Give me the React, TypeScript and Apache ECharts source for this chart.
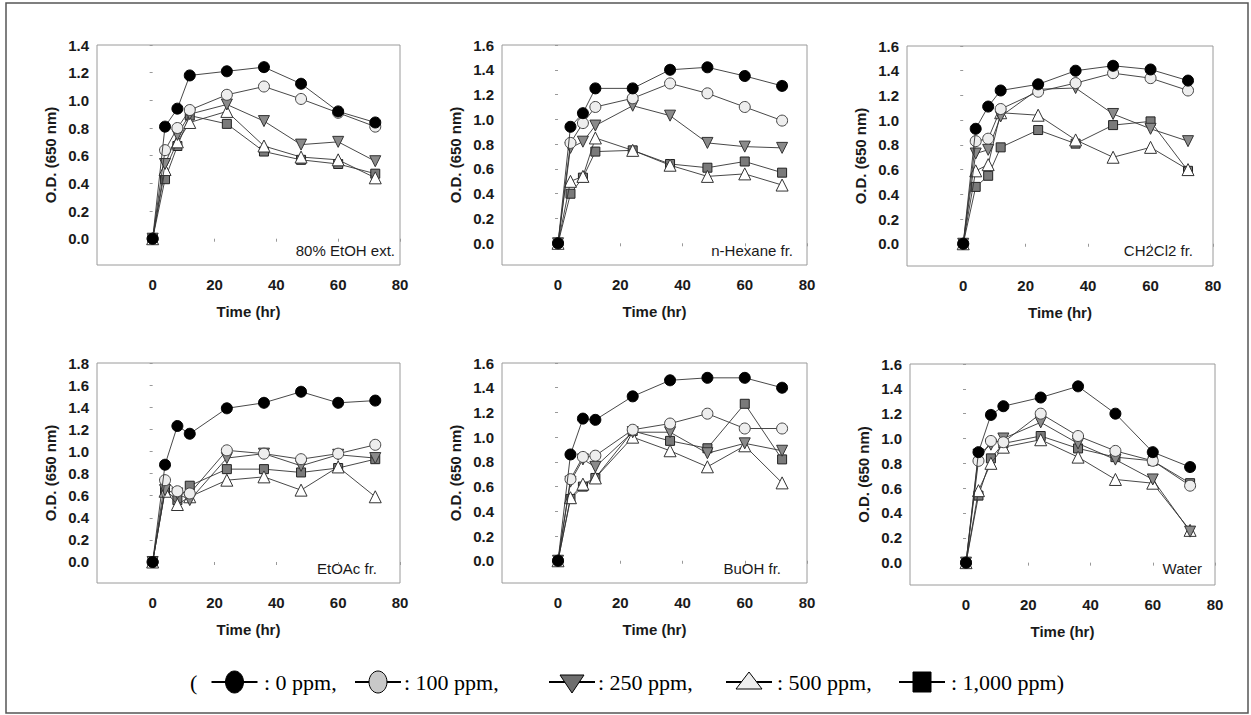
import React, { useEffect, useRef } from "react";
import * as echarts from "echarts";

const TIMES = [0, 4, 8, 12, 24, 36, 48, 60, 72];
const X_TICKS = [0, 20, 40, 60, 80];
const CONC_LABELS = [": 0 ppm,", ": 100 ppm,", ": 250 ppm,", ": 500 ppm,", ": 1,000 ppm)"];
const PANEL_LABELS = ["80% EtOH ext.", "n-Hexane fr.", "CH2Cl2 fr.", "EtOAc fr.", "BuOH fr.", "Water"];
const Y_MAX = [1.4, 1.6, 1.6, 1.8, 1.6, 1.6];

const etoh0 = [0, 0.81, 0.94, 1.18, 1.21, 1.24, 1.12, 0.92, 0.84];
const etoh100 = [0, 0.64, 0.8, 0.93, 1.04, 1.1, 1.01, 0.91, 0.81];
const etoh250 = [0, 0.54, 0.75, 0.9, 0.97, 0.85, 0.68, 0.7, 0.56];
const etoh500 = [0, 0.5, 0.7, 0.84, 0.92, 0.67, 0.59, 0.57, 0.44];
const etoh1000 = [0, 0.43, 0.67, 0.89, 0.83, 0.63, 0.57, 0.54, 0.47];

const hex0 = [0, 0.94, 1.05, 1.25, 1.25, 1.4, 1.42, 1.35, 1.27];
const hex100 = [0, 0.81, 0.97, 1.1, 1.17, 1.29, 1.21, 1.1, 0.99];
const hex250 = [0, 0.77, 0.82, 0.95, 1.11, 1.03, 0.81, 0.78, 0.77];
const hex500 = [0, 0.5, 0.54, 0.85, 0.75, 0.63, 0.54, 0.56, 0.47];
const hex1000 = [0, 0.4, 0.53, 0.74, 0.75, 0.64, 0.61, 0.66, 0.57];

const dcm0 = [0, 0.93, 1.11, 1.24, 1.29, 1.4, 1.44, 1.41, 1.32];
const dcm100 = [0, 0.83, 0.85, 1.09, 1.23, 1.3, 1.38, 1.34, 1.24];
const dcm250 = [0, 0.73, 0.76, 1.03, 1.25, 1.26, 1.05, 0.93, 0.83];
const dcm500 = [0, 0.59, 0.64, 1.06, 1.04, 0.84, 0.7, 0.78, 0.6];
const dcm1000 = [0, 0.46, 0.55, 0.78, 0.92, 0.81, 0.96, 0.99, 0.59];

const etoac0 = [0, 0.88, 1.23, 1.16, 1.39, 1.44, 1.54, 1.44, 1.46];
const etoac100 = [0, 0.74, 0.64, 0.62, 1.01, 0.98, 0.93, 0.98, 1.06];
const etoac250 = [0, 0.65, 0.62, 0.56, 0.94, 0.98, 0.87, 0.97, 0.94];
const etoac500 = [0, 0.64, 0.52, 0.59, 0.74, 0.77, 0.65, 0.86, 0.59];
const etoac1000 = [0, 0.65, 0.56, 0.69, 0.84, 0.84, 0.81, 0.85, 0.93];

const buoh0 = [0, 0.86, 1.15, 1.14, 1.33, 1.46, 1.48, 1.48, 1.4];
const buoh100 = [0, 0.66, 0.84, 0.85, 1.06, 1.11, 1.19, 1.07, 1.07];
const buoh250 = [0, 0.64, 0.82, 0.76, 1.04, 1.04, 0.87, 0.95, 0.89];
const buoh500 = [0, 0.51, 0.62, 0.67, 1.0, 0.89, 0.76, 0.93, 0.63];
const buoh1000 = [0, 0.5, 0.6, 0.67, 1.05, 0.97, 0.91, 1.27, 0.82];

const water0 = [0, 0.89, 1.19, 1.26, 1.33, 1.42, 1.2, 0.89, 0.77];
const water100 = [0, 0.82, 0.98, 0.97, 1.2, 1.02, 0.9, 0.82, 0.62];
const water250 = [0, 0.87, 0.95, 1.0, 1.13, 0.96, 0.83, 0.67, 0.25];
const water500 = [0, 0.58, 0.8, 0.93, 0.99, 0.85, 0.67, 0.64, 0.26];
const water1000 = [0, 0.54, 0.84, 0.96, 1.02, 0.92, 0.85, 0.82, 0.64];

const PANELS = [
  [etoh0, etoh100, etoh250, etoh500, etoh1000],
  [hex0, hex100, hex250, hex500, hex1000],
  [dcm0, dcm100, dcm250, dcm500, dcm1000],
  [etoac0, etoac100, etoac250, etoac500, etoac1000],
  [buoh0, buoh100, buoh250, buoh500, buoh1000],
  [water0, water100, water250, water500, water1000],
];

// layout
const GRIDS = [
  { left: 97, top: 45, width: 303, height: 220, ymin: -0.19 },
  { left: 502, top: 45, width: 305, height: 220, ymin: -0.175 },
  { left: 907, top: 46, width: 306, height: 220, ymin: -0.18 },
  { left: 97, top: 363, width: 303, height: 220, ymin: -0.19 },
  { left: 502, top: 363, width: 305, height: 220, ymin: -0.18 },
  { left: 910, top: 364, width: 305, height: 221, ymin: -0.18 },
];

const SERIES_STYLE = [
  { symbol: "circle", size: 11, rotate: 0, fill: "#000000", border: "#000000" },
  { symbol: "circle", size: 11, rotate: 0, fill: "#eeeeee", border: "#444444" },
  { symbol: "triangle", size: 11, rotate: 180, fill: "#8a8a8a", border: "#333333" },
  { symbol: "triangle", size: 12, rotate: 0, fill: "#ffffff", border: "#333333" },
  { symbol: "rect", size: 9, rotate: 0, fill: "#7a7a7a", border: "#222222" },
];

const SANS = "'Liberation Sans', Arial, sans-serif";
const SERIF = "'Liberation Serif', 'Times New Roman', serif";
const AX_FONT = 15;

export default function App() {
  const ref = useRef<HTMLDivElement>(null);
  useEffect(() => {
    document.body.style.margin = "0";
    if (!ref.current) return;
    const chart = echarts.init(ref.current, null, { renderer: "svg" });

    const grid: any[] = [];
    const xAxis: any[] = [];
    const yAxis: any[] = [];
    const series: any[] = [];
    const graphic: any[] = [];

    GRIDS.forEach((g, i) => {
      grid.push({
        left: g.left,
        top: g.top,
        width: g.width,
        height: g.height,
        show: true,
        borderColor: "#9a9a9a",
        borderWidth: 1,
        backgroundColor: "transparent",
        containLabel: false,
      });
      const yTicks: number[] = [];
      for (let k = 0; k <= Math.round(Y_MAX[i] / 0.2); k++) yTicks.push(+(k * 0.2).toFixed(1));
      xAxis.push({
        type: "value",
        gridIndex: i,
        min: -18,
        max: 80,
        axisLine: { show: false },
        splitLine: { show: false },
        axisTick: { show: true, customValues: X_TICKS, length: 3, lineStyle: { color: "#999" } },
        axisLabel: {
          customValues: X_TICKS,
          margin: 12,
          fontFamily: SANS,
          fontWeight: "bold",
          fontSize: AX_FONT,
          color: "#1a1a1a",
        },
        name: "Time (hr)",
        nameLocation: "middle",
        nameGap: 39,
        nameTextStyle: { fontFamily: SANS, fontWeight: "bold", fontSize: AX_FONT, color: "#1a1a1a" },
      });
      yAxis.push({
        type: "value",
        gridIndex: i,
        min: g.ymin,
        max: Y_MAX[i],
        axisLine: { show: false },
        splitLine: { show: false },
        axisTick: { show: true, customValues: yTicks, length: 3, lineStyle: { color: "#999" } },
        axisLabel: {
          customValues: yTicks,
          margin: 8,
          formatter: (v: number) => v.toFixed(1),
          fontFamily: SANS,
          fontWeight: "bold",
          fontSize: AX_FONT,
          color: "#1a1a1a",
        },
        name: "O.D. (650 nm)",
        nameLocation: "middle",
        nameRotate: 90,
        nameGap: 39,
        nameTextStyle: { fontFamily: SANS, fontWeight: "bold", fontSize: AX_FONT, color: "#1a1a1a" },
      });
      PANELS[i].forEach((vals, s) => {
        const st = SERIES_STYLE[s];
        series.push({
          type: "line",
          xAxisIndex: i,
          yAxisIndex: i,
          data: TIMES.map((t, k) => [t, vals[k]]),
          symbol: st.symbol,
          symbolSize: st.size,
          symbolRotate: st.rotate,
          showSymbol: true,
          z: 10 - s,
          lineStyle: { color: "#333333", width: 0.9 },
          itemStyle: { color: st.fill, borderColor: st.border, borderWidth: 1 },
          emphasis: { disabled: true },
        });
      });
    });

    // panel labels
    const labelPos = [
      { x: 395, y: 250 },
      { x: 793, y: 250 },
      { x: 1193, y: 250 },
      { x: 377, y: 568 },
      { x: 781, y: 568 },
      { x: 1202, y: 568 },
    ];
    labelPos.forEach((p, i) => {
      graphic.push({
        type: "text",
        x: p.x,
        y: p.y,
        style: {
          text: PANEL_LABELS[i],
          align: "right",
          verticalAlign: "middle",
          fontFamily: SANS,
          fontSize: 15,
          fill: "#1a1a1a",
        },
      });
    });

    // frame
    graphic.push({
      type: "rect",
      shape: { x: 6, y: 3, width: 1242, height: 710 },
      style: { fill: "none", stroke: "#555", lineWidth: 1.5 },
      z: 0,
    });

    // legend
    const LY = 682;
    graphic.push({
      type: "text",
      x: 190,
      y: LY,
      style: { text: "(", verticalAlign: "middle", fontFamily: SERIF, fontSize: 22, fill: "#000" },
    });
    const centers = [234.5, 378, 572, 749, 922];
    const textX = [264, 404, 598, 777, 951];
    centers.forEach((cx, s) => {
      graphic.push({
        type: "line",
        shape: { x1: cx - 23, y1: LY, x2: cx + 23, y2: LY },
        style: { stroke: "#000", lineWidth: 2 },
      });
      let mk: any;
      if (s === 0) {
        mk = { type: "ellipse", shape: { cx, cy: LY, rx: 9, ry: 11 }, style: { fill: "#000", stroke: "#000" } };
      } else if (s === 1) {
        mk = { type: "ellipse", shape: { cx, cy: LY, rx: 9, ry: 11 }, style: { fill: "#c8c8c8", stroke: "#000", lineWidth: 1 } };
      } else if (s === 2) {
        mk = {
          type: "polygon",
          shape: { points: [[cx - 12, LY - 7], [cx + 12, LY - 7], [cx, LY + 11]] },
          style: { fill: "#6e6e6e", stroke: "#000", lineWidth: 1 },
        };
      } else if (s === 3) {
        mk = {
          type: "polygon",
          shape: { points: [[cx - 13, LY + 7], [cx + 13, LY + 7], [cx, LY - 10]] },
          style: { fill: "#eeeeee", stroke: "#000", lineWidth: 1 },
        };
      } else {
        mk = { type: "rect", shape: { x: cx - 9, y: LY - 10, width: 18, height: 20 }, style: { fill: "#000", stroke: "#000" } };
      }
      mk.z = 5;
      graphic.push(mk);
      graphic.push({
        type: "text",
        x: textX[s],
        y: LY,
        style: { text: CONC_LABELS[s], verticalAlign: "middle", fontFamily: SERIF, fontSize: 22, fill: "#000" },
      });
    });

    chart.setOption({
      animation: false,
      backgroundColor: "#ffffff",
      grid,
      xAxis,
      yAxis,
      series,
      graphic,
    });
    return () => chart.dispose();
  }, []);
  return <div ref={ref} style={{ width: 1251, height: 715 }} />;
}
